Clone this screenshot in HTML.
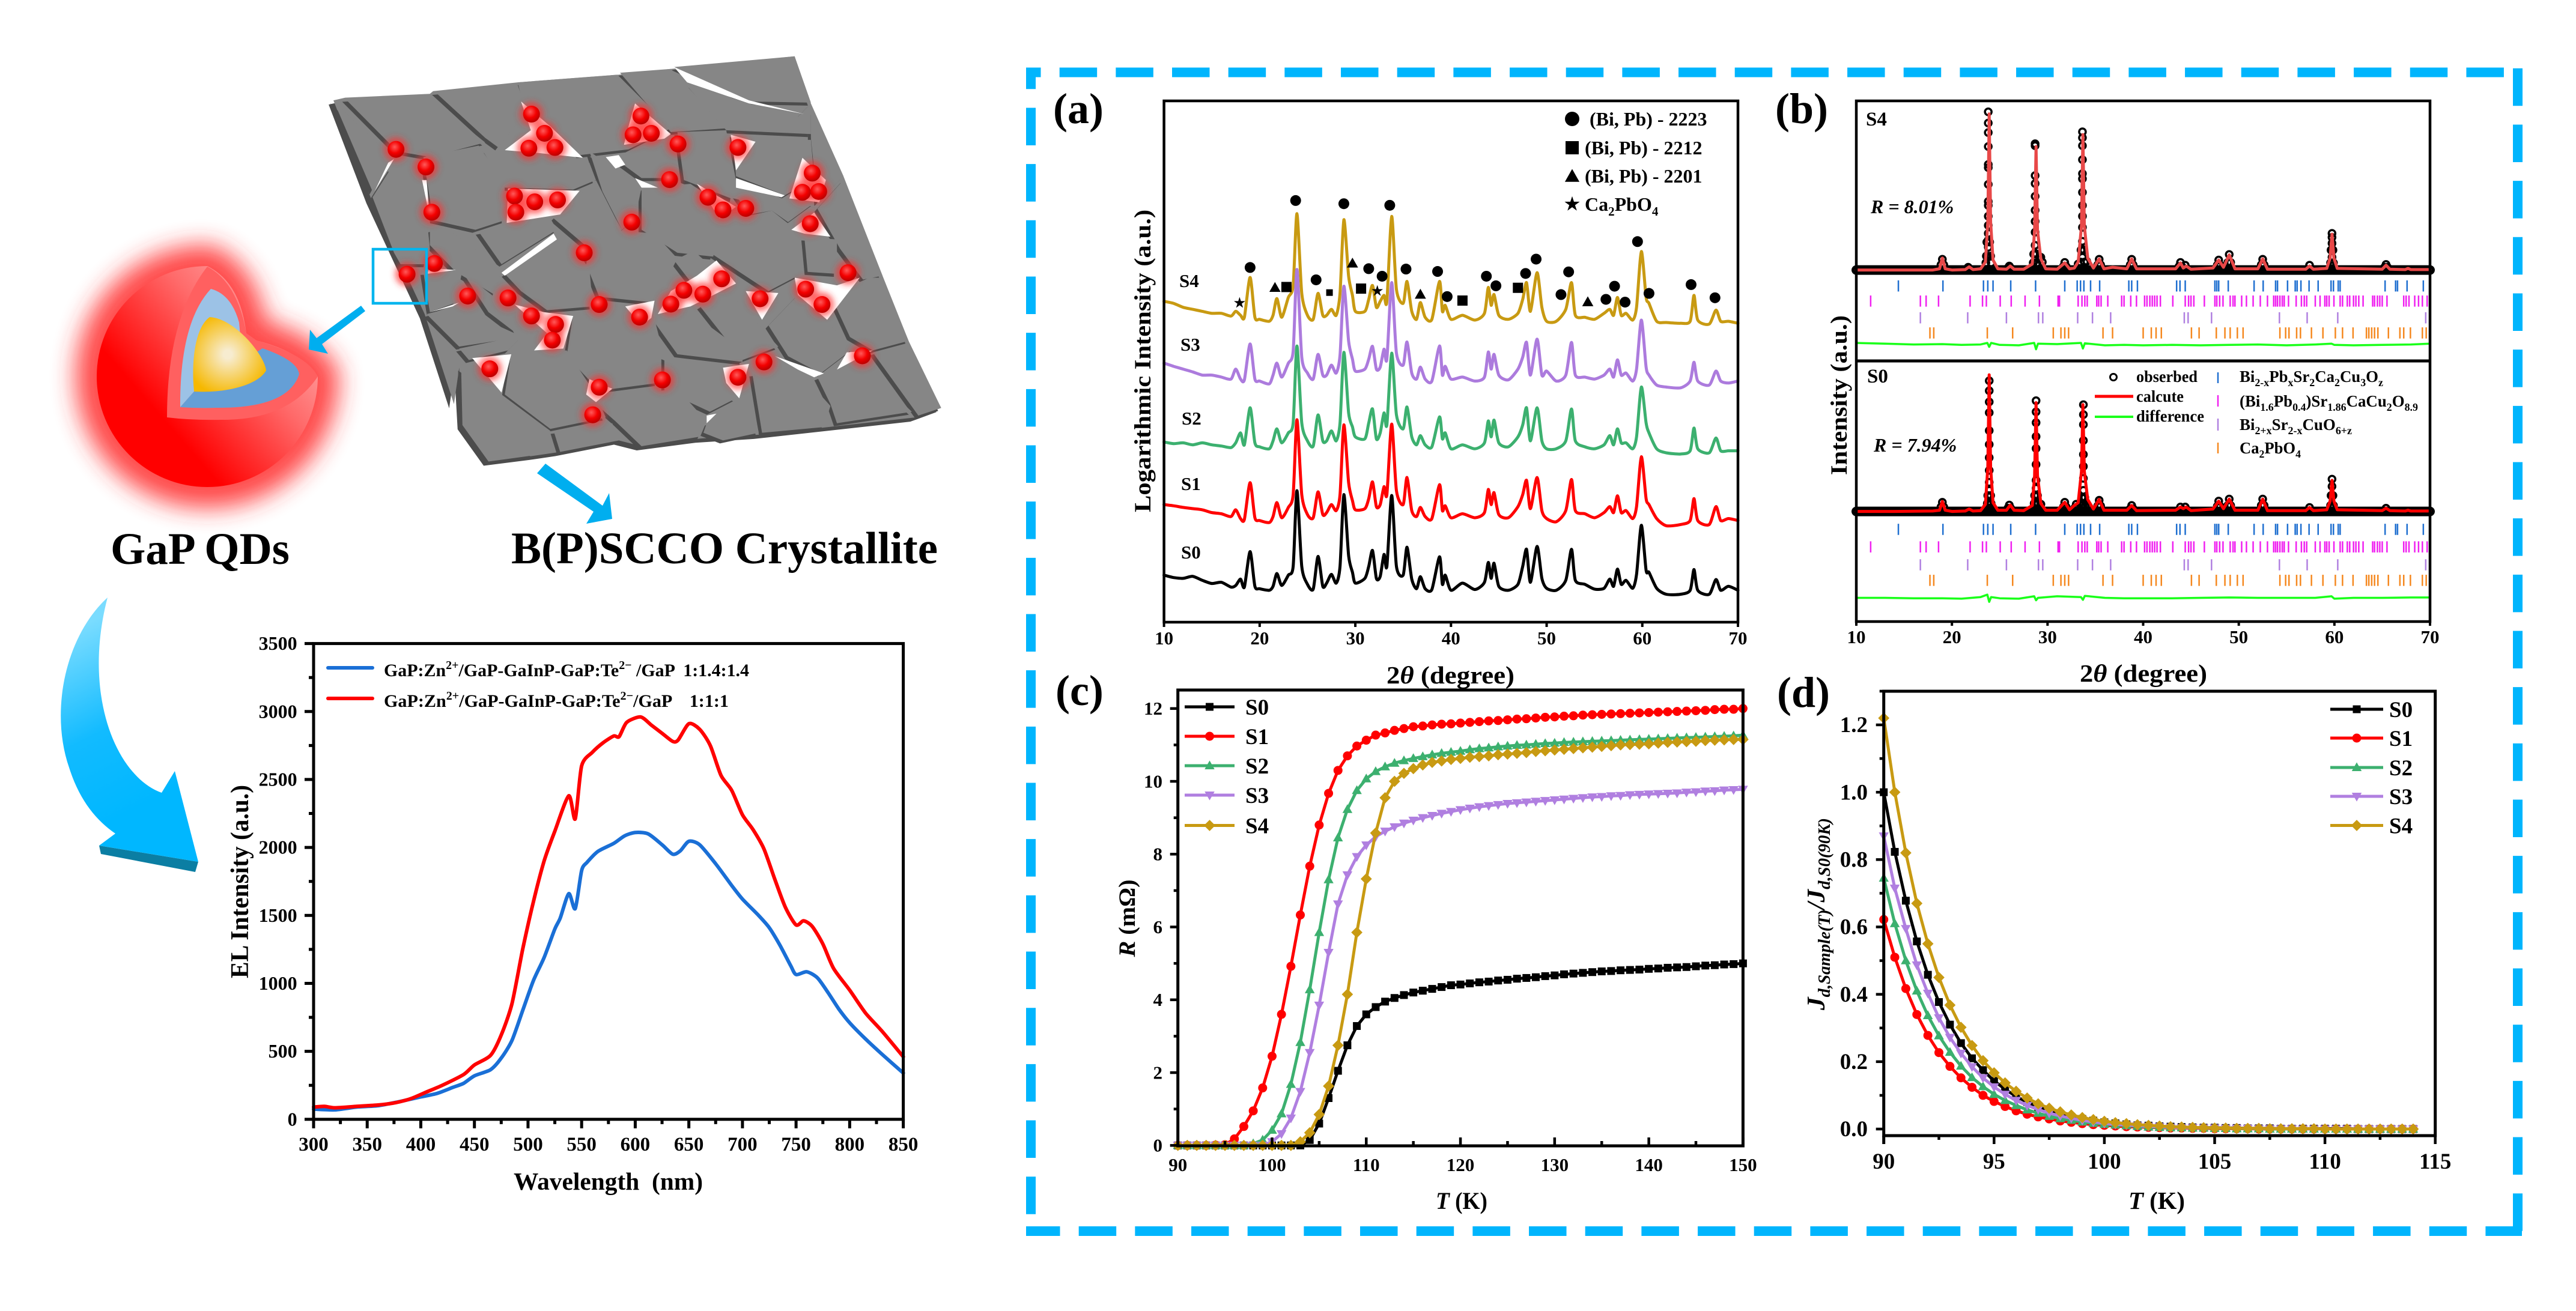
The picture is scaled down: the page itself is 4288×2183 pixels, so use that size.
<!DOCTYPE html>
<html lang="en">
<head>
<meta charset="utf-8">
<title>GaP QDs and B(P)SCCO crystallite figure</title>
<style>
html,body{margin:0;padding:0;background:#fff;}
svg{display:block;}
text{font-family:"Liberation Serif","Noto Serif CJK SC",serif;font-weight:bold;fill:#000;white-space:pre;}
</style>
</head>
<body>
<svg id="figure" xmlns="http://www.w3.org/2000/svg" width="4288" height="2183" viewBox="0 0 4288 2183">
<defs>
<filter id="blur24" x="-40%" y="-40%" width="180%" height="180%"><feGaussianBlur stdDeviation="20"/></filter>
<filter id="blur8" x="-30%" y="-30%" width="160%" height="160%"><feGaussianBlur stdDeviation="5"/></filter>
<linearGradient id="shellGrad" gradientUnits="userSpaceOnUse" x1="210" y1="720" x2="440" y2="520"><stop offset="0.2" stop-color="#ff0000"/><stop offset="0.75" stop-color="#ff6a6a"/><stop offset="1" stop-color="#ff9090"/></linearGradient>
<radialGradient id="coreGrad" gradientUnits="userSpaceOnUse" cx="379" cy="590" r="70"><stop offset="0.1" stop-color="#f7ecd0"/><stop offset="1" stop-color="#f6b800"/></radialGradient>
<radialGradient id="dotGrad" cx="0.42" cy="0.36" r="0.65"><stop offset="0" stop-color="#ff5a5a"/><stop offset="0.55" stop-color="#f40000"/><stop offset="1" stop-color="#b80000"/></radialGradient>
<linearGradient id="curveGrad" gradientUnits="userSpaceOnUse" x1="120" y1="1050" x2="260" y2="1330"><stop offset="0" stop-color="#7adcff"/><stop offset="0.55" stop-color="#12bbff"/><stop offset="1" stop-color="#00b7ff"/></linearGradient>
</defs>

<!-- dashed frame -->
<g stroke="#00b5fd" stroke-width="16" fill="none">
<line x1="1708" y1="120.5" x2="4198" y2="120.5" stroke-dasharray="62.5 31.17" stroke-dashoffset="38"/>
<line x1="4191" y1="113.8" x2="4191" y2="2058" stroke-dasharray="62.5 31.17"/>
<line x1="1708" y1="2050" x2="4198" y2="2050" stroke-dasharray="62.5 31.17" stroke-dashoffset="6"/>
<line x1="1716" y1="113" x2="1716" y2="2042" stroke-dasharray="62.5 31.17" stroke-dashoffset="27.2"/>
</g>

<!-- core-shell quantum dot -->
<g id="qd">
<path d="M529,627 A184,184 0 1 1 345,443 Q400,470 410,555 L427,567 Q500,585 529,627 Z" fill="#ff2a2a" stroke="#ff2a2a" stroke-width="70" stroke-linejoin="round" filter="url(#blur24)" opacity="0.85"/>
<path d="M529,627 A184,184 0 1 1 345,443 Q400,470 410,555 L427,567 Q500,585 529,627 Z" fill="url(#shellGrad)"/>
<path d="M345,444 Q278,530 278,695 Q320,700 368,699 Q480,700 529,627 Q510,590 427,567 L410,555 Q395,470 345,444 Z" fill="#ff6060"/>
<path d="M351,481 Q299,537 300,678 L323,652 L400,560 L398,537 Q385,490 351,481 Z" fill="#9cc2e6"/>
<path d="M300,678 L323,652 L437,580 Q495,600 498,623 Q480,680 360,679 Q330,680 300,678 Z" fill="#659fd6"/>
<path d="M323,652 C318,600 325,545 349,528 C390,530 440,590 443,617 C430,640 380,655 323,652 Z" fill="url(#coreGrad)"/>
</g>

<!-- crystallite illustration containers, filled by script -->
<g id="grainBase"></g>
<g id="grainsShadow" fill="#4c4c4c"></g>
<g id="grains" fill="#868686"></g>
<g id="gaps" fill="#ffffff"></g>
<g id="dotGlow" filter="url(#blur8)"></g>
<g id="dots"></g>

<rect x="621" y="415" width="89" height="90" fill="none" stroke="#00b5ee" stroke-width="4.5"/>
<polygon points="601,509 608,518 536,573 546,589 514,582 516,549 527,563" fill="#00aeef"/>
<polygon points="908,772 1003,842 1014,821 1019,864 976,872 988,852 894,788" fill="#00aeef"/>
<polygon points="165,1408 330,1435 325,1452 168,1422" fill="#0b7ea3"/>
<path d="M179,995 C110,1058 82,1182 115,1278 C132,1332 160,1366 192,1388 L165,1408 L330,1435 L291,1284 L269,1320 C192,1292 137,1155 179,995 Z" fill="url(#curveGrad)"/>

<text x="184" y="939" font-size="75" textLength="298" lengthAdjust="spacingAndGlyphs">GaP QDs</text>
<text x="851" y="938" font-size="75" textLength="710" lengthAdjust="spacingAndGlyphs">B(P)SCCO Crystallite</text>

<text x="1753" y="205" font-size="72">(a)</text>
<text x="2955" y="205" font-size="72">(b)</text>
<text x="1757" y="1174" font-size="72">(c)</text>
<text x="2958" y="1177" font-size="72">(d)</text>

<!-- EL chart text -->
<text transform="translate(413,1468) rotate(-90)" text-anchor="middle" font-size="42" textLength="322" lengthAdjust="spacingAndGlyphs">EL Intensity (a.u.)</text>
<text x="855" y="1981" font-size="41" textLength="315" lengthAdjust="spacingAndGlyphs">Wavelength  (nm)</text>
<text x="639" y="1126" font-size="30" textLength="608" lengthAdjust="spacingAndGlyphs">GaP:Zn<tspan dy="-12" font-size="20">2+</tspan><tspan dy="12">/GaP-GaInP-GaP:Te</tspan><tspan dy="-12" font-size="20">2−</tspan><tspan dy="12"> /GaP  1:1.4:1.4</tspan></text>
<text x="639" y="1177" font-size="30" textLength="574" lengthAdjust="spacingAndGlyphs">GaP:Zn<tspan dy="-12" font-size="20">2+</tspan><tspan dy="12">/GaP-GaInP-GaP:Te</tspan><tspan dy="-12" font-size="20">2−</tspan><tspan dy="12">/GaP    1:1:1</tspan></text>
<line x1="546" y1="1112" x2="620" y2="1112" stroke="#1a6fd6" stroke-width="6" stroke-linecap="round"/>
<line x1="546" y1="1163" x2="620" y2="1163" stroke="#ff0000" stroke-width="6" stroke-linecap="round"/>

<!-- (a) text -->
<text transform="translate(1915,601) rotate(-90)" text-anchor="middle" font-size="39" textLength="504" lengthAdjust="spacingAndGlyphs">Logarithmic Intensity (a.u.)</text>
<text x="2308" y="1138" font-size="41" textLength="213" lengthAdjust="spacingAndGlyphs">2<tspan font-style="italic">θ</tspan> (degree)</text>
<text x="1963" y="478" font-size="31">S4</text>
<text x="1965" y="584" font-size="31">S3</text>
<text x="1967" y="707" font-size="31">S2</text>
<text x="1966" y="816" font-size="31">S1</text>
<text x="1966" y="930" font-size="31">S0</text>
<text x="2646" y="209" font-size="32">(Bi, Pb) - 2223</text>
<text x="2638" y="257" font-size="32">(Bi, Pb) - 2212</text>
<text x="2638" y="304" font-size="32">(Bi, Pb) - 2201</text>
<text x="2638" y="351" font-size="32">Ca<tspan dy="8" font-size="21">2</tspan><tspan dy="-8">PbO</tspan><tspan dy="8" font-size="21">4</tspan></text>

<!-- (b) text -->
<text transform="translate(3074,658) rotate(-90)" text-anchor="middle" font-size="39" textLength="266" lengthAdjust="spacingAndGlyphs">Intensity (a.u.)</text>
<text x="3462" y="1135" font-size="41" textLength="212" lengthAdjust="spacingAndGlyphs">2<tspan font-style="italic">θ</tspan> (degree)</text>
<text x="3106" y="209" font-size="33">S4</text>
<text x="3108" y="637" font-size="33">S0</text>
<text x="3114" y="355" font-size="32" font-style="italic">R = 8.01%</text>
<text x="3119" y="752" font-size="32" font-style="italic">R = 7.94%</text>
<circle cx="3518" cy="628" r="5.5" fill="none" stroke="#000" stroke-width="3"/>
<line x1="3487" y1="660" x2="3551" y2="660" stroke="#ff0000" stroke-width="5"/>
<line x1="3487" y1="694" x2="3551" y2="694" stroke="#1aff1a" stroke-width="4"/>
<text x="3556" y="636" font-size="27" textLength="102" lengthAdjust="spacingAndGlyphs">obserbed</text>
<text x="3556" y="669" font-size="27" textLength="79" lengthAdjust="spacingAndGlyphs">calcute</text>
<text x="3556" y="702" font-size="27" textLength="113" lengthAdjust="spacingAndGlyphs">difference</text>
<line x1="3692" y1="620" x2="3692" y2="638" stroke="#1f6fd0" stroke-width="2.5"/>
<line x1="3692" y1="658" x2="3692" y2="677" stroke="#f020f0" stroke-width="2.5"/>
<line x1="3692" y1="697" x2="3692" y2="717" stroke="#b080e0" stroke-width="2.5"/>
<line x1="3692" y1="737" x2="3692" y2="755" stroke="#f5881f" stroke-width="2.5"/>
<text x="3728" y="636" font-size="27" textLength="239" lengthAdjust="spacingAndGlyphs">Bi<tspan dy="7" font-size="18">2-x</tspan><tspan dy="-7">Pb</tspan><tspan dy="7" font-size="18">x</tspan><tspan dy="-7">Sr</tspan><tspan dy="7" font-size="18">2</tspan><tspan dy="-7">Ca</tspan><tspan dy="7" font-size="18">2</tspan><tspan dy="-7">Cu</tspan><tspan dy="7" font-size="18">3</tspan><tspan dy="-7">O</tspan><tspan dy="7" font-size="18">z</tspan></text>
<text x="3728" y="677" font-size="27" textLength="297" lengthAdjust="spacingAndGlyphs">(Bi<tspan dy="7" font-size="18">1.6</tspan><tspan dy="-7">Pb</tspan><tspan dy="7" font-size="18">0.4</tspan><tspan dy="-7">)Sr</tspan><tspan dy="7" font-size="18">1.86</tspan><tspan dy="-7">CaCu</tspan><tspan dy="7" font-size="18">2</tspan><tspan dy="-7">O</tspan><tspan dy="7" font-size="18">8.9</tspan></text>
<text x="3728" y="716" font-size="27" textLength="187" lengthAdjust="spacingAndGlyphs">Bi<tspan dy="7" font-size="18">2+x</tspan><tspan dy="-7">Sr</tspan><tspan dy="7" font-size="18">2-x</tspan><tspan dy="-7">CuO</tspan><tspan dy="7" font-size="18">6+z</tspan></text>
<text x="3728" y="755" font-size="27" textLength="102" lengthAdjust="spacingAndGlyphs">Ca<tspan dy="7" font-size="18">2</tspan><tspan dy="-7">PbO</tspan><tspan dy="7" font-size="18">4</tspan></text>

<!-- (c) text -->
<text transform="translate(1889,1529) rotate(-90)" text-anchor="middle" font-size="39" textLength="129" lengthAdjust="spacingAndGlyphs"><tspan font-style="italic">R</tspan> (mΩ)</text>
<text x="2390" y="2013" font-size="40" textLength="86" lengthAdjust="spacingAndGlyphs"><tspan font-style="italic">T</tspan> (K)</text>

<!-- (d) text -->
<text transform="translate(3037,1522) rotate(-90)" text-anchor="middle" font-size="42" font-style="italic" textLength="320" lengthAdjust="spacingAndGlyphs">J<tspan dy="9" font-size="28">d,Sample(T)</tspan><tspan dy="-9">/J</tspan><tspan dy="9" font-size="28">d,S0(90K)</tspan></text>
<text x="3543" y="2013" font-size="41" textLength="94" lengthAdjust="spacingAndGlyphs"><tspan font-style="italic">T</tspan> (K)</text>

<g id="chartEL"></g>
<g id="chartA"></g>
<g id="chartB"></g>
<g id="chartC"></g>
<g id="chartD"></g>
</svg>

<script>
/* ---------- EL spectrum data ---------- */
const elBlueWavelengths = [300,320,340,360,380,400,415,430,440,450,465,475,485,495,505,515,525,530,538,544,550,555,565,580,590,600,612,625,635,642,650,660,675,690,700,715,725,735,745,750,760,770,780,790,800,815,830,850];
const elBlueIntensity = [75,70,90,100,130,165,190,235,265,320,365,450,580,800,1020,1190,1400,1480,1660,1550,1830,1890,1970,2030,2085,2110,2100,2020,1950,1975,2045,2020,1880,1720,1620,1500,1410,1280,1130,1065,1085,1040,930,810,710,590,480,340];
const elRedWavelengths = [300,310,320,340,360,375,390,405,420,440,450,465,475,485,495,505,515,525,538,544,550,560,570,580,585,592,605,615,625,635,640,650,660,670,680,690,700,710,720,730,740,750,757,765,775,785,800,815,830,850];
const elRedIntensity = [90,95,85,95,105,120,150,200,250,330,400,470,620,850,1250,1600,1900,2120,2380,2210,2600,2700,2770,2820,2815,2920,2960,2900,2840,2780,2790,2910,2870,2750,2530,2420,2240,2130,1990,1770,1560,1430,1460,1420,1290,1110,950,780,650,460];
const elXTicks = [300,350,400,450,500,550,600,650,700,750,800,850];
const elXMinor = [325,375,425,475,525,575,625,675,725,775,825];
const elYTicks = [0,500,1000,1500,2000,2500,3000,3500];
const elYMinor = [250,750,1250,1750,2250,2750,3250];

/* ---------- (a) XRD data ---------- */
const xrdAngles = [10,11,12,13,14,15,16,17,17.5,18,
18.4,19,19.5,20,21,21.4,21.8,22.3,23,23.5,
23.9,24.4,25,25.6,26.1,26.6,27,27.5,28,28.4,
28.8,29.3,29.7,30,31,31.4,31.8,32.2,32.6,33,
33.3,33.8,34.3,35,35.4,35.9,36.4,36.8,37.3,38,
38.8,39.1,39.4,40,41.2,42.5,43.5,43.9,44.2,44.5,
45,46,47,47.5,47.9,48.3,49,49.5,50,51,
52,52.6,53,54,55,56,56.6,57,57.4,57.8,
58.3,59,59.4,59.9,60.4,60.7,61.5,62.5,64,65,
65.4,65.8,67,67.7,68.2,69,70];
const xrdS0 = [118,112,110,115,105,97,100,88,92,108,
88,177,90,84,80,90,122,92,118,140,
330,140,95,83,165,90,98,120,98,140,
320,167,125,98,110,140,180,110,115,170,
140,318,140,118,188,108,84,114,84,82,
164,95,118,80,98,82,100,150,110,148,
90,80,95,140,183,100,190,110,85,80,
105,183,105,95,83,85,108,90,133,95,
105,85,120,243,130,125,85,70,70,80,
132,80,70,107,80,90,80];
const xrdS1 = [295,292,288,285,282,275,272,265,282,260,
258,350,262,255,250,265,300,262,288,320,
508,320,270,262,327,270,275,295,280,320,
495,350,305,282,285,310,352,290,295,340,
320,497,330,295,363,280,265,288,265,260,
345,280,292,262,272,262,275,333,295,325,
270,262,290,320,356,285,363,280,260,252,
280,358,280,272,262,275,290,275,317,275,
280,260,290,415,310,295,260,242,245,255,
310,255,245,290,255,260,255];
const xrdS2 = [452,448,450,445,450,445,442,438,450,475,
445,538,450,440,435,455,485,450,475,500,
693,500,455,442,520,455,455,480,455,500,
677,525,490,465,460,500,535,460,475,525,
495,675,520,485,540,465,445,468,445,440,
515,460,475,435,445,435,450,505,465,507,
450,440,465,495,538,455,538,455,435,435,
455,535,455,440,435,445,468,445,485,450,
450,435,465,590,500,475,435,425,422,430,
487,435,425,462,430,430,430];
const xrdS3 = [650,642,635,628,620,620,615,610,635,610,
608,698,610,605,598,620,650,615,650,680,
885,665,625,610,672,620,620,645,625,670,
843,705,660,630,635,660,692,635,640,685,
660,852,675,645,703,625,610,640,610,605,
693,620,642,610,615,605,615,678,635,672,
620,608,635,665,702,620,710,620,630,605,
620,702,620,615,610,620,635,615,658,620,
625,605,635,758,640,620,595,590,588,605,
652,605,595,630,605,600,605];
const xrdS4 = [805,800,790,785,780,775,775,768,780,770,
765,865,765,760,755,770,812,765,815,845,
1025,825,770,760,825,770,770,785,770,825,
1010,868,820,780,780,810,845,790,805,820,
805,1018,835,800,855,780,760,802,765,760,
855,780,795,760,770,758,775,840,795,822,
770,760,775,810,852,780,877,790,755,755,
785,852,770,765,760,775,785,770,815,770,
775,758,790,930,815,800,755,752,750,755,
820,758,748,783,755,755,750];
const xrdXTicks = [10,20,30,40,50,60,70];
const phase2223Angles = [19,23.76,25.9,28.8,31.4,32.8,33.6,35.3,38.6,39.6,43.7,44.7,47.8,48.9,51.5,52.3,56.2,57.1,58.2,59.5,60.7,65.1,67.6];
const phase2223Heights = [890,1058,859,1050,887,868,1046,886,880,817,868,844,875,911,822,879,810,843,803,955,825,847,814];
const phase2212Angles = [22.8,27.3,30.6,41.2,47];
const phase2212Heights = [841,827,837,807,839];
const phase2201Angles = [21.6,29.7,36.8,54.3];
const phase2201Heights = [839,900,822,803];
const phaseCaAngles = [17.9,32.3];
const phaseCaHeights = [801,831];

/* ---------- (b) refinement data ---------- */
const refineAngles = [10,14,18,18.7,19,19.3,20,21.4,21.8,22.2,
23,23.5,23.75,23.9,24.05,24.3,24.8,25.7,26.1,26.5,
27.5,28.4,28.65,28.8,28.95,29.3,29.8,31,31.8,32.3,
32.8,33.2,33.55,33.7,33.85,34.2,34.8,35.4,35.9,36.8,
38.3,38.8,39.3,43.4,43.9,44.2,44.5,45,47.3,47.9,
48.4,49,49.6,52,52.5,53,57,57.4,57.8,59.2,
59.55,59.75,59.95,60.3,65,65.4,65.8,67.4,67.7,68,70];
const calcS4 = [0,0,0,3,30,3,0,1,8,1,
3,20,120,392,120,25,3,2,10,2,
2,15,100,310,100,28,3,2,18,3,
5,20,110,340,110,30,5,28,3,7,
3,28,3,3,18,5,10,2,5,25,
7,38,3,3,28,2,2,10,2,4,
30,90,30,4,2,12,2,1,4,1,1];
const calcS0 = [0,0,1,3,25,3,0,1,6,1,
2,18,110,343,110,22,3,3,16,3,
2,15,90,273,90,20,3,3,23,4,
15,22,100,268,100,30,6,30,3,3,
3,15,2,3,11,7,11,2,6,26,
7,31,3,3,31,2,2,10,2,4,
26,78,26,4,2,8,2,1,3,1,1];
const obsS4Angles = [23.8,23.8,23.8,23.8,23.8,23.8,23.8,23.8,23.8,23.8,23.8,23.8,23.8,23.8,23.8,23.6,24.05,23.65,23.95,23.55,24.1,
28.7,28.7,28.7,28.7,28.7,28.7,28.7,28.7,28.7,28.7,28.7,28.55,28.85,28.5,28.9,29.15,29.3,29.45,
33.65,33.65,33.65,33.65,33.65,33.65,33.65,33.65,33.65,33.65,33.65,33.65,33.65,33.5,33.8,33.45,33.85,34.1,33.2,
59.75,59.75,59.75,59.75,59.75,59.75,59.75,59.65,59.85,59.6,59.9,
19,18.85,19.15,26,25.85,26.15,21.7,21.55,21.85,31.8,31.65,31.95,35.4,35.25,35.55,38.8,38.65,38.95,43.9,43.75,44.05,44.4,47.9,47.75,48.05,49,48.85,49.15,52.5,52.35,52.65,57.4,65.4,65.25,65.55];
const obsS4Values = [397,369,345,310,265,257,215,172,162,135,112,92,75,57,35,35,35,70,70,18,18,
317,312,237,217,185,150,122,95,62,42,25,40,40,18,18,30,32,20,
347,332,312,277,242,229,195,162,135,107,72,52,32,50,50,20,20,22,15,
92,82,67,52,32,18,10,50,50,18,18,
27,13,13,10,5,5,7,3,3,19,9,9,27,13,13,27,13,13,19,9,9,12,25,12,12,39,19,19,27,13,13,12,14,7,7];
const obsS0Angles = [23.9,23.9,23.9,23.9,23.9,23.9,23.9,23.9,23.9,23.9,23.9,23.9,23.9,23.75,24.05,23.7,24.1,23.6,24.2,
28.8,28.8,28.8,28.8,28.8,28.8,28.8,28.8,28.8,28.8,28.65,28.95,28.6,29,29.3,
33.75,33.75,33.75,33.75,33.75,33.75,33.75,33.75,33.75,33.75,33.75,33.6,33.9,33.55,33.95,34.2,
59.75,59.75,59.75,59.75,59.75,59.65,59.85,59.6,59.9,
19,18.85,19.15,26,25.85,26.15,31.8,31.65,31.95,33,32.85,33.15,35.4,35.25,35.55,38.8,38.65,38.95,43.9,44.4,47.9,47.75,48.05,49,48.85,49.15,52.5,52.35,52.65,57.4,65.4,29.3];
const obsS0Values = [328,303,275,248,203,168,135,103,73,53,38,18,8,40,40,20,20,10,10,
278,250,223,188,158,118,78,58,38,18,40,40,20,20,18,
268,243,218,178,143,113,83,53,33,18,8,35,35,15,15,15,
81,63,38,18,8,40,40,15,15,
23,11,11,16,8,8,23,11,11,18,9,9,28,14,14,15,7,7,11,11,26,13,13,31,15,15,31,15,15,10,8,18];
const diffAngles = [10,13,16,19,21,23,23.7,23.9,24.1,25,27,28.6,28.8,29,31,33.5,33.7,33.9,36,38,40,43,46,49,52,55,58,59.7,60,62,65,68,70];
const diffS4 = [-183,-185,-187,-186,-188,-187,-183,-193,-183,-188,-189,-183,-199,-185,-186,-183,-197,-184,-189,-188,-189,-188,-189,-188,-187,-189,-187,-185,-188,-189,-188,-187,-185];
const diffS0 = [-217,-217,-218,-218,-219,-215,-209,-227,-215,-218,-219,-213,-223,-217,-213,-215,-222,-212,-217,-218,-218,-218,-217,-216,-217,-217,-217,-213,-219,-217,-217,-216,-216];
const braggBlue = [14.4,19.06,23.3,23.75,24.3,26.15,28.75,31.8,33.1,33.45,33.8,34.5,35.45,38.5,38.8,39.4,43.5,43.85,44.4,47.5,47.7,47.9,48.9,51.6,52.55,53.85,54.05,55.1,55.9,56.1,56.5,57.35,58.3,59.65,59.9,60.4,60.6,65.3,66.4,66.6,67.6,69.3];
const braggMagenta = [11.5,16.7,17.3,18.6,21.9,23.2,23.6,25.05,26.2,27.65,29.15,31.1,31.25,33.2,33.6,33.9,34.15,35.15,35.35,35.6,36.3,37.75,38,38.7,39.3,40.15,40.4,40.7,40.95,41.2,41.45,41.8,43.1,44.4,44.75,45,45.3,46.4,47.5,47.7,48,48.35,49.1,49.4,49.6,50.3,50.8,51.5,52.25,53,53.65,53.85,54.05,54.3,54.55,54.75,55.2,56,56.55,56.85,57.1,58,58.5,59,59.2,59.45,59.95,60.6,60.85,61.35,61.6,62,62.25,62.55,63,64,64.2,64.5,64.75,65,65.5,67.25,67.5,67.8,68.4,68.8,69.2,69.7];
const braggPurple = [16.7,21.65,25.7,29.05,29.5,33.15,34.7,36.6,44.3,44.7,47.15,54.25,57.15,60.35,69.55];
const braggOrange = [17.7,18.1,23.7,26.35,30.6,31.4,31.8,32.2,35.8,36.8,40,40.85,41.35,41.9,45.05,45.85,47.65,48.55,49.1,49.85,50.45,54.3,54.9,55.25,56.05,56.45,57.6,58.8,60.1,60.85,61.95,63.35,63.6,63.9,64.2,64.55,65.65,66.85,67.25,67.95,69.2,69.6];

/* ---------- (c) resistance data ---------- */
const rTemps = [90,91,92,93,94,95,96,97,98,99,100,101,102,103,104,105,106,107,108,109,110,111,112,113,114,115,116,117,118,119,120,121,122,123,124,125,126,127,128,129,130,131,132,133,134,135,136,137,138,139,140,141,142,143,144,145,146,147,148,149,150];
const rS0 = [0,0,0,0,0,0,0,0,0,0,0,0,0,0,0.15,0.6,1.3,2.05,2.75,3.28,3.6,3.8,3.95,4.05,4.13,4.2,4.25,4.3,4.35,4.4,4.42,4.45,4.48,4.5,4.53,4.55,4.58,4.6,4.62,4.65,4.67,4.7,4.72,4.74,4.76,4.78,4.79,4.81,4.82,4.83,4.85,4.86,4.88,4.89,4.9,4.92,4.94,4.95,4.97,4.98,5];
const rS1 = [0,0,0,0,0.01,0.02,0.18,0.52,0.95,1.58,2.45,3.6,4.92,6.33,7.67,8.8,9.67,10.3,10.7,10.97,11.13,11.27,11.33,11.4,11.45,11.5,11.52,11.55,11.57,11.58,11.6,11.62,11.64,11.66,11.67,11.69,11.71,11.72,11.74,11.76,11.77,11.79,11.8,11.82,11.83,11.84,11.85,11.86,11.87,11.88,11.89,11.9,11.91,11.92,11.93,11.94,11.95,11.97,11.98,11.98,12];
const rS2 = [0,0,0,0,0,0,0,0,0.05,0.15,0.42,0.87,1.68,2.83,4.28,5.85,7.3,8.45,9.23,9.75,10.07,10.27,10.4,10.5,10.57,10.63,10.68,10.73,10.77,10.8,10.83,10.87,10.9,10.92,10.95,10.97,10.99,11,11.02,11.04,11.05,11.07,11.08,11.09,11.1,11.11,11.12,11.13,11.14,11.15,11.16,11.17,11.18,11.19,11.2,11.21,11.22,11.23,11.24,11.25,11.27];
const rS3 = [0,0,0,0,0,0,0,0,0,0,0.1,0.32,0.75,1.48,2.55,3.85,5.3,6.63,7.43,7.93,8.25,8.48,8.63,8.75,8.85,8.93,9,9.06,9.12,9.17,9.22,9.26,9.3,9.33,9.36,9.39,9.41,9.43,9.45,9.47,9.49,9.51,9.53,9.55,9.57,9.58,9.6,9.61,9.63,9.64,9.65,9.66,9.67,9.68,9.7,9.71,9.73,9.74,9.76,9.77,9.78];
const rS4 = [0,0,0,0,0,0,0,0,0,0,0,0,0,0.1,0.35,0.85,1.63,2.75,4.15,5.85,7.32,8.58,9.55,10,10.22,10.35,10.45,10.52,10.56,10.6,10.63,10.66,10.68,10.7,10.73,10.75,10.77,10.79,10.82,10.84,10.86,10.88,10.9,10.92,10.94,10.96,10.98,11,11.01,11.02,11.03,11.05,11.07,11.08,11.09,11.1,11.12,11.13,11.14,11.15,11.15];
const rXTicks = [90,100,110,120,130,140,150];
const rXMinor = [95,105,115,125,135,145];
const rYTicks = [0,2,4,6,8,10,12];
const rYMinor = [1,3,5,7,9,11];

/* ---------- (d) current density data ---------- */
const jTemps = [90,90.5,91,91.5,92,92.5,93,93.5,94,94.5,95,95.5,96,96.5,97,97.5,98,98.5,99,99.5,100,100.5,101,101.5,102,102.5,103,103.5,104,104.5,105,105.5,106,106.5,107,107.5,108,108.5,109,109.5,110,110.5,111,111.5,112,112.5,113,113.5,114];
const jS0 = [1,0.823,0.678,0.557,0.458,0.377,0.31,0.255,0.21,0.175,0.143,0.118,0.097,0.08,0.066,0.054,0.044,0.036,0.03,0.025,0.02,0.017,0.014,0.011,0.01,0.008,0.007,0.006,0.005,0.004,0.004,0.003,0.003,0.002,0.002,0.002,0.001,0.001,0.001,0.001,0.001,0.001,0.001,0,0,0,0,0,0];
const jS1 = [0.622,0.51,0.417,0.34,0.278,0.227,0.186,0.152,0.124,0.1,0.082,0.067,0.054,0.044,0.036,0.03,0.024,0.02,0.016,0.013,0.011,0.009,0.007,0.006,0.005,0.004,0.003,0.003,0.002,0.002,0.001,0.001,0.001,0.001,0,0,0,0,0,0,0,0,0,0,0,0,0,0,0];
const jS2 = [0.745,0.61,0.5,0.41,0.337,0.277,0.228,0.187,0.153,0.126,0.103,0.085,0.07,0.057,0.047,0.038,0.031,0.026,0.021,0.017,0.014,0.012,0.01,0.008,0.006,0.005,0.004,0.004,0.003,0.003,0.002,0.002,0.001,0.001,0.001,0,0,0,0,0,0,0,0,0,0,0,0,0,0];
const jS3 = [0.87,0.715,0.595,0.487,0.403,0.33,0.272,0.225,0.185,0.152,0.125,0.103,0.085,0.07,0.058,0.047,0.039,0.032,0.026,0.021,0.017,0.014,0.012,0.01,0.008,0.007,0.005,0.004,0.004,0.003,0.003,0.002,0.002,0.002,0.001,0.001,0.001,0.001,0,0,0,0,0,0,0,0,0,0,0];
const jS4 = [1.22,1,0.82,0.67,0.55,0.45,0.368,0.302,0.248,0.203,0.167,0.137,0.112,0.092,0.075,0.062,0.051,0.042,0.034,0.028,0.023,0.019,0.016,0.013,0.011,0.009,0.007,0.006,0.005,0.004,0.003,0.003,0.002,0.002,0.002,0.001,0.001,0.001,0.001,0.001,0,0,0,0,0,0,0,0,0];
const jXTicks = [90,95,100,105,110,115];
const jXMinor = [92.5,97.5,102.5,107.5,112.5];
const jYTicks = [0,0.2,0.4,0.6,0.8,1,1.2];
const jYMinor = [0.1,0.3,0.5,0.7,0.9,1.1,1.3];

/* ---------- crystallite illustration ---------- */
const crystalOutline = "530,255 660,245 665,238 795,215 950,195 1030,180 1220,147 1245,270 1295,460 1355,720 1395,890 1445,1065 1405,1090 1165,1135 1075,1145 985,1165 950,1150 860,1180 820,1190 750,1205 710,1110 705,960 697,1055 652,820 570,520 512,262";
const grainOutlines = ["530,258 652,246 745,372 660,410 610,395","512,262 600,410 572,500","668,240 795,222 808,290 765,385 745,360","795,215 948,195 1030,335 965,390 890,405 805,290","952,190 1030,180 1115,335 1030,345","1035,175 1220,147 1245,268 1150,265","1050,215 1150,270 1225,305 1245,270 1245,350 1115,340","1245,275 1295,460 1255,530 1245,360","572,515 600,440 648,455 655,560 660,650 655,690 615,690 605,660","650,410 735,380 775,480 775,575 730,600 665,575","740,390 905,425 915,470 880,495 775,490","735,605 845,570 855,600 770,690","850,570 915,470 945,570 955,600 905,650","905,395 985,490 975,570 955,600 925,500","945,415 1025,375 1030,440 1020,465 985,465","1040,345 1115,340 1130,470 1125,520 1095,500 1050,470","1125,350 1160,370 1245,365 1250,465 1205,510 1130,460","985,490 1060,480 1105,530 1105,600 1095,670 1040,660 985,600","905,640 945,600 1005,610 1040,675 1005,790 920,775 900,690","1095,665 1105,580 1185,550 1230,610 1225,720 1180,760","1130,510 1205,540 1250,530 1210,580 1185,550 1150,560","1255,545 1295,470 1355,720 1325,730 1290,650","1235,620 1285,625 1285,715 1240,710","1035,680 1065,655 1095,700 1060,735","660,600 680,590 770,700 760,770 700,710 660,640","775,715 860,610 905,700 910,800 840,810 800,760","650,710 710,705 700,790 660,815","710,710 770,790 800,880 750,815","655,820 700,800 790,870 800,880 705,905","705,910 790,880 800,880 780,915 720,940","880,820 1000,800 1015,900 1010,1000 920,1020 870,930","1000,830 1060,815 1140,915 1140,945 1040,925","1075,800 1115,755 1195,905 1140,940","1180,850 1225,770 1275,850 1310,910 1260,975 1210,930","1275,770 1335,725 1355,725 1395,890 1340,915 1305,880","1340,920 1395,895 1445,1065 1410,1085","1255,985 1320,945 1400,1075 1285,1105 1275,1055","1155,975 1225,965 1275,1060 1265,1115 1170,1130","1020,930 1050,950 1130,1040 1090,1075 1020,1020","708,960 770,1030 845,1125 815,1190 750,1205 710,1110","785,920 870,915 915,1030 930,1090 845,1120 775,1030","905,1040 1040,1015 1085,1100 1075,1140 985,1165 945,1100","850,1125 940,1105 950,1150 860,1180","1085,1105 1155,1045 1165,1130 1110,1150 1080,1130"];
const gapOutlines = ["800,265 845,330 895,412 830,400 775,392 815,340","975,270 1030,350 1020,362 958,378 965,330","780,492 890,498 860,560 778,582","1122,352 1160,370 1130,445","1232,412 1268,470 1258,528 1212,518","1215,600 1250,555 1275,618 1235,610","1100,680 1130,740 1090,775 1060,800 1010,820 1030,760 1070,720","1220,725 1285,745 1320,725 1270,835 1225,770","1145,760 1195,765 1170,835","790,795 835,815 880,825 865,910 820,915 840,870","725,935 785,925 770,1025","905,990 940,1015 915,1050 900,1030","960,800 1005,785 1000,830 985,850","1110,960 1150,950 1135,1040 1115,1000","1190,930 1265,975 1250,985 1225,965","1300,920 1340,915 1285,965","655,470 660,570 648,470","596,425 605,415 575,500","1035,175 1150,262 1235,298 1150,270 1055,215","770,712 850,610 855,625 775,720","1130,465 1205,510 1200,515 1130,490","930,410 950,405 960,430 945,440","975,465 1010,490 985,490","660,815 705,790 695,800","1085,1085 1100,1080 1085,1105","660,700 700,705 655,715","1070,480 1130,540 1105,570"];
const dotCentres = [[608,390],[654,436],[663,554],[667,688],[625,716],[718,773],[780,778],[816,825],[853,847],[848,888],[752,963],[920,1011],[910,1083],[920,795],[982,828],[1017,992],[1133,985],[1173,945],[1324,929],[1262,795],[1237,755],[1302,712],[1167,780],[1108,728],[1079,768],[1050,758],[1030,794],[897,660],[970,580],[790,512],[821,527],[856,522],[792,554],[816,298],[836,348],[852,385],[812,387],[984,303],[1000,348],[972,352],[1041,376],[1133,385],[1028,469],[1087,515],[1110,548],[1145,544],[1247,452],[1232,502],[1257,500],[1244,584]];

const NS = 'http://www.w3.org/2000/svg';
function make(tag, parent, attrs) {
  const e = document.createElementNS(NS, tag);
  for (const k in attrs) e.setAttribute(k, attrs[k]);
  parent.appendChild(e);
  return e;
}
function scale(d0, d1, r0, r1) {
  return v => r0 + (v - d0) * (r1 - r0) / (d1 - d0);
}
function seriesLine(parent, xs, ys, sx, sy, colour, width, name) {
  const pts = xs.map((x, i) => sx(x).toFixed(1) + ',' + sy(ys[i]).toFixed(1)).join(' ');
  const e = make('polyline', parent, {points: pts, fill: 'none', stroke: colour, 'stroke-width': width, 'stroke-linejoin': 'round', 'stroke-linecap': 'round'});
  
  
  return e;
}
function smoothLine(parent, xs, ys, sx, sy, colour, width, name) {
  const p = xs.map((x, i) => [sx(x), sy(ys[i])]);
  let d = 'M' + p[0][0].toFixed(1) + ',' + p[0][1].toFixed(1);
  for (let i = 0; i < p.length - 1; i++) {
    const a = p[i - 1] || p[i], b = p[i], c = p[i + 1], f = p[i + 2] || c;
    d += 'C' + (b[0] + (c[0] - a[0]) / 8).toFixed(1) + ',' + (b[1] + (c[1] - a[1]) / 8).toFixed(1) + ' ' + (c[0] - (f[0] - b[0]) / 8).toFixed(1) + ',' + (c[1] - (f[1] - b[1]) / 8).toFixed(1) + ' ' + c[0].toFixed(1) + ',' + c[1].toFixed(1);
  }
  const e = make('path', parent, {d: d, fill: 'none', stroke: colour, 'stroke-width': width, 'stroke-linejoin': 'round', 'stroke-linecap': 'round'});
  
  
  return e;
}
function marker(parent, shape, x, y, s, colour, name) {
  let e;
  if (shape === 'circle') {
    e = make('circle', parent, {cx: x, cy: y, r: s, fill: colour});
  } else if (shape === 'square') {
    e = make('rect', parent, {x: x - s, y: y - s, width: 2 * s, height: 2 * s, fill: colour});
  } else if (shape === 'up') {
    e = make('polygon', parent, {points: [x, y - s * 1.15, x + s * 1.1, y + s * 0.8, x - s * 1.1, y + s * 0.8].join(','), fill: colour});
  } else if (shape === 'down') {
    e = make('polygon', parent, {points: [x, y + s * 1.15, x + s * 1.1, y - s * 0.8, x - s * 1.1, y - s * 0.8].join(','), fill: colour});
  } else if (shape === 'diamond') {
    e = make('polygon', parent, {points: [x, y - s * 1.25, x + s * 1.25, y, x, y + s * 1.25, x - s * 1.25, y].join(','), fill: colour});
  } else {
    const p = [];
    for (let i = 0; i < 10; i++) {
      const r = i % 2 ? s * 0.42 : s * 1.1;
      const a = -Math.PI / 2 + i * Math.PI / 5;
      p.push((x + r * Math.cos(a)).toFixed(1) + ',' + (y + r * Math.sin(a)).toFixed(1));
    }
    e = make('polygon', parent, {points: p.join(' '), fill: colour});
  }
  
  
  return e;
}
function label(parent, x, y, str, size, anchor, name) {
  const e = make('text', parent, {x: x, y: y, 'font-size': size, 'text-anchor': anchor});
  e.textContent = str;
  
  
  return e;
}
function tick(parent, x1, y1, x2, y2, w, name) {
  const e = make('line', parent, {x1: x1, y1: y1, x2: x2, y2: y2, stroke: '#000', 'stroke-width': w});
  
  
}
function frame(parent, l, t, r, b, w, name) {
  const e = make('rect', parent, {x: l, y: t, width: r - l, height: b - t, fill: 'none', stroke: '#000', 'stroke-width': w});
  
  
}
function xAxis(parent, sx, base, major, minor, dir, maj, min, w, labelY, size, fmt) {
  major.forEach(v => {
    tick(parent, sx(v), base, sx(v), base + dir * maj, w, 'x-tick');
    label(parent, sx(v), labelY, fmt ? fmt(v) : String(v), size, 'middle', 'x-tick-label');
  });
  minor.forEach(v => tick(parent, sx(v), base, sx(v), base + dir * min, w, 'x-minor-tick'));
}
function yAxis(parent, sy, left, major, minor, maj, min, w, labelX, size, fmt) {
  major.forEach(v => {
    tick(parent, left, sy(v), left - maj, sy(v), w, 'y-tick');
    label(parent, labelX, sy(v) + size * 0.33, fmt ? fmt(v) : String(v), size, 'end', 'y-tick-label');
  });
  minor.forEach(v => tick(parent, left, sy(v), left - min, sy(v), w, 'y-minor-tick'));
}

/* illustration */
(function () {
  const SX = 1700 / 1568, SY = 1000 / 1568;
  const toReal = outline => outline.split(' ').map(p => {
    const c = p.split(',');
    return [c[0] * SX, c[1] * SY];
  });
  const base = document.getElementById('grainBase');
  const outlinePts = toReal(crystalOutline);
  const baseSide = make('polygon', base, {points: outlinePts.map(c => (c[0] - 8) + ',' + (c[1] + 7)).join(' '), fill: '#4c4c4c'});
  
  
  const baseTop = make('polygon', base, {points: outlinePts.map(c => c[0] + ',' + c[1]).join(' '), fill: '#868686'});
  
  
  const grains = document.getElementById('grains');
  const shadow = document.getElementById('grainsShadow');
  grainOutlines.forEach(outline => {
    const pts = toReal(outline);
    const side = make('polygon', shadow, {points: pts.map(c => (c[0] - 5) + ',' + (c[1] + 5)).join(' ')});
    
    
    const top = make('polygon', grains, {points: pts.map(c => c[0] + ',' + c[1]).join(' ')});
    
    
  });
  const gaps = document.getElementById('gaps');
  gapOutlines.forEach(outline => {
    const hole = make('polygon', gaps, {points: toReal(outline).map(c => c[0] + ',' + c[1]).join(' ')});
    
    
  });
  const glow = document.getElementById('dotGlow');
  const dots = document.getElementById('dots');
  dotCentres.forEach(c => {
    const halo = make('circle', glow, {cx: c[0] * SX, cy: c[1] * SY, r: 20, fill: '#ff3030', opacity: 0.7});
    
    
    const d = make('circle', dots, {cx: c[0] * SX, cy: c[1] * SY, r: 14, fill: 'url(#dotGrad)'});
    
    
  });
})();

/* EL chart */
(function () {
  const g = document.getElementById('chartEL');
  const sx = scale(300, 850, 522, 1503.6);
  const sy = scale(0, 3500, 1863.8, 1071.6);
  smoothLine(g, elBlueWavelengths, elBlueIntensity, sx, sy, '#1a6fd6', 6, 'el-series-blue');
  smoothLine(g, elRedWavelengths, elRedIntensity, sx, sy, '#ff0000', 6, 'el-series-red');
  frame(g, 522, 1071.6, 1503.6, 1863.8, 5, 'el-plot-frame');
  xAxis(g, sx, 1863.8, elXTicks, elXMinor, 1, 15, 8, 5, 1916, 33);
  yAxis(g, sy, 522, elYTicks, elYMinor, 15, 8, 5, 494.6, 32);
})();

/* (a) */
(function () {
  const g = document.getElementById('chartA');
  const sx = scale(10, 70, 1937.6, 2893);
  const sy = scale(0, 1308, 1036, 168);
  smoothLine(g, xrdAngles, xrdS4, sx, sy, '#c89a12', 5, 'xrd-series-s4');
  smoothLine(g, xrdAngles, xrdS3, sx, sy, '#ac7bdd', 5, 'xrd-series-s3');
  smoothLine(g, xrdAngles, xrdS2, sx, sy, '#3cb06f', 5, 'xrd-series-s2');
  smoothLine(g, xrdAngles, xrdS1, sx, sy, '#ff0000', 5, 'xrd-series-s1');
  smoothLine(g, xrdAngles, xrdS0, sx, sy, '#000000', 5, 'xrd-series-s0');
  frame(g, 1937.6, 168, 2893, 1036, 4.5, 'a-plot-frame');
  xAxis(g, sx, 1036, xrdXTicks, [], 1, 8, 0, 4, 1073, 31);
  phase2223Angles.forEach((a, i) => marker(g, 'circle', sx(a), sy(phase2223Heights[i]), 9, '#000', 'phase-2223-marker'));
  phase2212Angles.forEach((a, i) => marker(g, 'square', sx(a), sy(phase2212Heights[i]), i === 1 ? 5.5 : 8.5, '#000', 'phase-2212-marker'));
  phase2201Angles.forEach((a, i) => marker(g, 'up', sx(a), sy(phase2201Heights[i]), 8.5, '#000', 'phase-2201-marker'));
  phaseCaAngles.forEach((a, i) => marker(g, 'star', sx(a), sy(phaseCaHeights[i]), 9, '#000', 'phase-ca2pbo4-marker'));
  marker(g, 'circle', 2617, 198, 12, '#000', 'a-legend-circle');
  marker(g, 'square', 2617, 246, 11, '#000', 'a-legend-square');
  marker(g, 'up', 2617, 294, 11, '#000', 'a-legend-triangle');
  marker(g, 'star', 2617, 340, 12, '#000', 'a-legend-star');
})();

/* (b) */
(function () {
  const g = document.getElementById('chartB');
  const sx = scale(10, 70, 3090, 4045);
  const syS4 = scale(0, 400, 449.6, 184.3);
  const syS0 = scale(0, 400, 851.6, 586.3);
  function panel(sy, calc, colour, obsA, obsV, diff, offsets, tag) {
    seriesLine(g, [10, 70], [0, 0], sx, sy, '#000', 16, tag + '-observed-band');
    obsA.forEach((a, i) => {
      const c = make('circle', g, {cx: sx(a), cy: sy(obsV[i]), r: 5.5, fill: 'none', stroke: '#000', 'stroke-width': 3.5});
      
      
    });
    seriesLine(g, refineAngles, calc, sx, sy, colour, 5, tag + '-calculated-line');
    seriesLine(g, diffAngles, diff, sx, sy, '#1aff1a', 3.5, tag + '-difference-line');
    const rows = [[braggBlue, '#1f6fd0'], [braggMagenta, '#f020f0'], [braggPurple, '#b080e0'], [braggOrange, '#f5881f']];
    rows.forEach((row, k) => {
      row[0].forEach(a => {
        const t = make('line', g, {x1: sx(a), x2: sx(a), y1: sy(-offsets[k]), y2: sy(-offsets[k] - 28), stroke: row[1], 'stroke-width': 2.5});
        
        
      });
    });
  }
  panel(syS4, calcS4, '#e84848', obsS4Angles, obsS4Values, diffS4, [26, 64, 106, 144], 's4');
  panel(syS0, calcS0, '#ff0000', obsS0Angles, obsS0Values, diffS0, [31, 75, 120, 159], 's0');
  frame(g, 3090, 168, 4045, 1035, 4.5, 'b-plot-frame');
  tick(g, 3090, 601, 4045, 601, 5, 'b-panel-divider');
  xAxis(g, sx, 1035, xrdXTicks, [], 1, 7, 0, 4, 1071, 31);
})();

/* shared series legend */
function seriesLegend(g, x1, x2, textX, rows, colours, shapes, sizes, size) {
  rows.forEach((y, i) => {
    const l = make('line', g, {x1: x1, x2: x2, y1: y, y2: y, stroke: colours[i], 'stroke-width': 5});
    
    
    marker(g, shapes[i], (x1 + x2) / 2, y, sizes[i], colours[i], 'legend-marker');
    label(g, textX, y + 13, 'S' + i, size, 'start', 'legend-label');
  });
}
const seriesColours = ['#000000', '#ff0000', '#3cb06f', '#b07fe0', '#c89a12'];
const seriesShapes = ['square', 'circle', 'up', 'down', 'diamond'];

/* (c) */
(function () {
  const g = document.getElementById('chartC');
  const sx = scale(90, 150, 1960.7, 2901.4);
  const sy = scale(0, 12, 1907.3, 1179.8);
  [rS0, rS1, rS2, rS3, rS4].forEach((values, i) => {
    seriesLine(g, rTemps, values, sx, sy, seriesColours[i], 5, 'resistance-series-s' + i);
    rTemps.forEach((t, k) => marker(g, seriesShapes[i], sx(t), sy(values[k]), i === 0 ? 6.5 : 7.5, seriesColours[i], 'resistance-point'));
  });
  frame(g, 1960.7, 1149, 2901.4, 1908, 5, 'c-plot-frame');
  xAxis(g, sx, 1908, rXTicks, rXMinor, -1, 14, 8, 4.5, 1950, 31);
  yAxis(g, sy, 1960.7, rYTicks, rYMinor, 13, 7, 4.5, 1935, 31);
  seriesLegend(g, 1972, 2055, 2073, [1177, 1226, 1275, 1324, 1374.5], seriesColours, seriesShapes, [6.5, 7.5, 7.5, 7.5, 7.5], 37);
})();

/* (d) */
(function () {
  const g = document.getElementById('chartD');
  const sx = scale(90, 115, 3135.7, 4053.7);
  const sy = scale(0, 1.2, 1880, 1207);
  [jS0, jS1, jS2, jS3, jS4].forEach((values, i) => {
    seriesLine(g, jTemps, values, sx, sy, seriesColours[i], 5, 'current-series-s' + i);
    jTemps.forEach((t, k) => marker(g, seriesShapes[i], sx(t), sy(values[k]), i === 0 ? 6.5 : 7.5, seriesColours[i], 'current-point'));
  });
  frame(g, 3135.7, 1151, 4053.7, 1891, 5, 'd-plot-frame');
  tick(g, 3135.7, 1891, 3135.7, 1905, 5, 'x-tick-origin');
  xAxis(g, sx, 1891, jXTicks, jXMinor, 1, 14, 7, 4.5, 1946, 37);
  yAxis(g, sy, 3135.7, jYTicks, jYMinor, 13, 7, 4.5, 3109, 37, v => v.toFixed(1));
  seriesLegend(g, 3879, 3967, 3977, [1181, 1229, 1278, 1326, 1374.5], seriesColours, seriesShapes, [6.5, 7.5, 7.5, 7.5, 7.5], 37);
})();
</script>
</body>
</html>
